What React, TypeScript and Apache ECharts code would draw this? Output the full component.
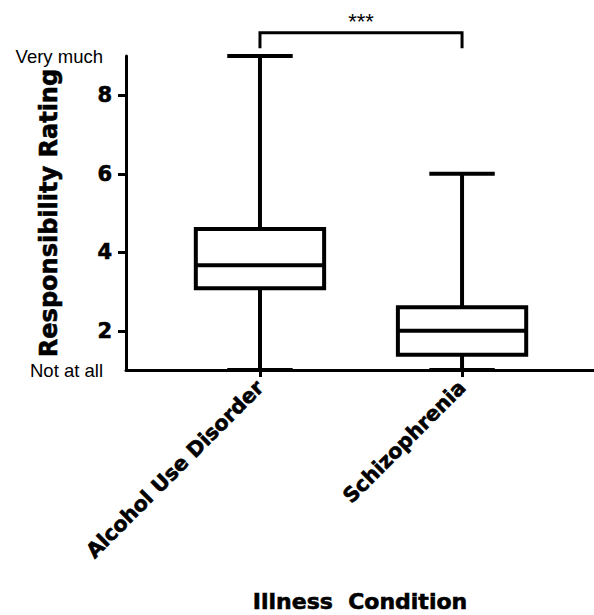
import React, { useEffect, useRef } from "react";
import * as echarts from "echarts";

const categories = ["Alcohol Use Disorder", "Schizophrenia"];
const mins = [1, 1];
const q1s = [3.08, 1.39];
const medians = [3.67, 2.0];
const q3s = [4.59, 2.6];
const maxs = [9, 6];
const yTickValues = [2, 4, 6, 8];
const yLabelValues = [1, 2, 4, 6, 8, 9];
const yBottomLabel = "Not at all";
const yTopLabel = "Very much";
const sigPair = [1, 2];
const sigText = "***";

const BOLD = "'DejaVu Sans', sans-serif";
const REG = "'Liberation Sans', Arial, sans-serif";
const heavy = { textBorderColor: "#000", textBorderWidth: 0.6 };

export default function App() {
  const ref = useRef<HTMLDivElement>(null);
  useEffect(() => {
    if (!ref.current) return;
    const chart = echarts.init(ref.current, null, { renderer: "svg" });
    const boxData = categories.map((c, i) => [i + 1, mins[i], q1s[i], medians[i], q3s[i], maxs[i]]);
    const stroke = { stroke: "#000", lineWidth: 4, fill: "none" };
    chart.setOption({
      animation: false,
      backgroundColor: "#fff",
      grid: { left: 126, right: 0, top: 56, bottom: 245, containLabel: false, outerBoundsMode: "none" },
      xAxis: {
        type: "value",
        min: 0.337,
        max: 2.653,
        name: "Illness  Condition",
        nameLocation: "middle",
        nameGap: 220,
        nameMoveOverlap: false,
        nameTextStyle: { fontFamily: BOLD, fontWeight: "bold", fontSize: 22, color: "#000", ...heavy },
        axisLine: { show: true, onZero: false, lineStyle: { color: "#000", width: 3 } },
        axisTick: { show: true, customValues: [1, 2], length: 7, lineStyle: { color: "#000", width: 3 } },
        axisLabel: {
          customValues: [1, 2],
          rotate: 45,
          margin: 14,
          fontFamily: BOLD,
          fontWeight: "bold",
          fontSize: 20.5,
          color: "#000",
          ...heavy,
          formatter: (v: number) => categories[Math.round(v) - 1] ?? "",
        },
        splitLine: { show: false },
      },
      yAxis: {
        type: "value",
        min: 1,
        max: 9,
        name: "Responsibility Rating",
        nameLocation: "middle",
        nameGap: 65,
        nameMoveOverlap: false,
        nameTextStyle: { fontFamily: BOLD, fontWeight: "bold", fontSize: 24, color: "#000", ...heavy },
        axisLine: { show: true, onZero: false, lineStyle: { color: "#000", width: 3 } },
        axisTick: { show: true, customValues: yTickValues, length: 8, lineStyle: { color: "#000", width: 3 } },
        axisLabel: {
          customValues: yLabelValues,
          margin: 14,
          fontFamily: BOLD,
          fontWeight: "bold",
          fontSize: 21,
          color: "#000",
          formatter: (v: number) =>
            v === 1 ? `{e|${yBottomLabel}}` : v === 9 ? `{e|${yTopLabel}}` : `{n|${v}}`,
          rich: {
            n: { fontFamily: BOLD, fontWeight: "bold", fontSize: 21, color: "#000", ...heavy },
            e: { fontFamily: REG, fontWeight: "normal", fontSize: 18.5, color: "#000", padding: [0, 9, 0, 0] },
          },
        },
        splitLine: { show: false },
      },
      series: [
        {
          type: "custom",
          data: boxData,
          encode: { x: 0, y: [1, 2, 3, 4, 5] },
          clip: false,
          renderItem: (params: any, api: any) => {
            const x = api.value(0);
            const lo = api.coord([x, api.value(1)]);
            const q1 = api.coord([x, api.value(2)]);
            const md = api.coord([x, api.value(3)]);
            const q3 = api.coord([x, api.value(4)]);
            const hi = api.coord([x, api.value(5)]);
            const bw = api.size([0.635, 0])[0];
            const cw = bw * 0.51;
            const cx = lo[0];
            return {
              type: "group",
              children: [
                { type: "line", shape: { x1: cx, y1: q3[1], x2: cx, y2: hi[1] }, style: stroke },
                { type: "line", shape: { x1: cx - cw / 2, y1: hi[1], x2: cx + cw / 2, y2: hi[1] }, style: stroke },
                { type: "line", shape: { x1: cx, y1: q1[1], x2: cx, y2: lo[1] }, style: stroke },
                { type: "line", shape: { x1: cx - cw / 2, y1: lo[1], x2: cx + cw / 2, y2: lo[1] }, style: stroke },
                {
                  type: "rect",
                  shape: { x: cx - bw / 2, y: q3[1], width: bw, height: q1[1] - q3[1] },
                  style: { stroke: "#000", lineWidth: 4, fill: "#fff" },
                },
                { type: "line", shape: { x1: cx - bw / 2, y1: md[1], x2: cx + bw / 2, y2: md[1] }, style: stroke },
              ],
            };
          },
        },
        {
          type: "custom",
          data: [sigPair],
          encode: { x: [0, 1] },
          clip: false,
          silent: true,
          renderItem: (params: any, api: any) => {
            const a = api.value(0);
            const b = api.value(1);
            const top = 9.59;
            const leg = 9.2;
            const p1 = api.coord([a, leg]);
            const p2 = api.coord([a, top]);
            const p3 = api.coord([b, top]);
            const p4 = api.coord([b, leg]);
            const t = api.coord([(a + b) / 2, 9.89]);
            return {
              type: "group",
              children: [
                {
                  type: "polyline",
                  shape: { points: [p1, p2, p3, p4] },
                  style: { stroke: "#000", lineWidth: 3, fill: "none" },
                },
                {
                  type: "text",
                  style: {
                    text: sigText,
                    x: t[0],
                    y: t[1],
                    align: "center",
                    verticalAlign: "middle",
                    fontFamily: REG,
                    fontSize: 22,
                    fill: "#000",
                  },
                },
              ],
            };
          },
        },
      ],
    });
    return () => chart.dispose();
  }, []);
  return <div ref={ref} style={{ position: "absolute", left: 0, top: 0, width: 594, height: 615 }} />;
}
